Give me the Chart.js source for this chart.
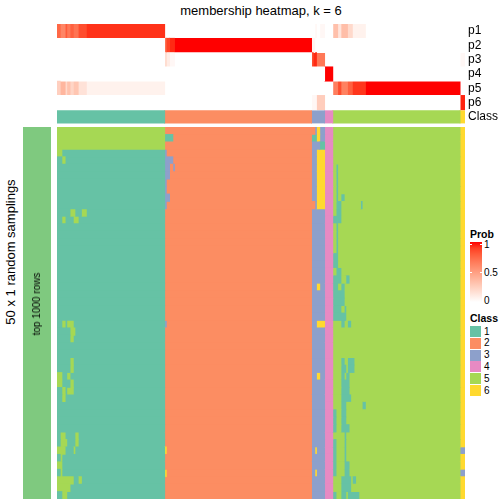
<!DOCTYPE html>
<html>
<head>
<meta charset="UTF-8">
<title>membership heatmap, k = 6</title>
<script src="https://cdn.jsdelivr.net/npm/chart.js@4.4.1/dist/chart.umd.min.js"></script>
<style>
	body { margin: 0; background: #fff; font-family: "Liberation Sans", Arial, sans-serif; }
	#wrap { position: relative; width: 504px; height: 504px; overflow: hidden; }
	canvas { position: absolute; }
	.txt { position: absolute; white-space: nowrap; color: #000; line-height: 1; }
	.rot { transform: translate(-50%, -50%) rotate(-90deg); }
	.sw { position: absolute; left: 470px; width: 11px; height: 11px; }
	.lab { position: absolute; left: 484px; font-size: 10px; line-height: 10px; }
</style>
</head>
<body>
<div id="wrap">
	<div class="txt" style="left:57px;width:408px;top:4px;text-align:center;font-size:13px;">membership heatmap, k = 6</div>
	<canvas id="probChart" width="448" height="100" style="left:57px;top:24px;"></canvas>
	<canvas id="sideChart" width="28" height="372" style="left:23px;top:127px;"></canvas>
	<canvas id="gridChart" width="408" height="372" style="left:57px;top:127px;"></canvas>
	<div class="txt rot" style="left:10px;top:252px;font-size:13px;">50 x 1 random samplings</div>
	<div class="txt rot" style="left:37px;top:304px;font-size:10px;">top 1000 rows</div>
	<div id="legend"></div>
</div>
<script>
	// columns of the heatmap (samples), ordered by consensus class
	var nCols = 250;
	var classLabels = ['1', '2', '3', '4', '5', '6'];
	var classColors = ['#66c2a5', '#fc8d62', '#8da0cb', '#e78ac3', '#a6d854', '#ffd92f'];
	var probLabels = ['p1', 'p2', 'p3', 'p4', 'p5', 'p6'];
	var probTicks = ['1', '0.5', '0'];

	// consensus class of each column: [class, number of columns]
	var classRuns = [[1, 66], [2, 90], [3, 8], [4, 5], [5, 78], [6, 3]];

	// membership probability rows: [value, number of columns]
	var p1Runs = [[0.75, 2], [0.62, 3], [0.8, 1], [0.68, 2], [0.78, 2], [0.7, 3], [0.85, 5], [0.93, 48], [0, 92], [0.04, 1], [0, 2], [0.04, 3], [0, 5], [0.33, 3], [0.14, 2], [0.34, 4], [0.2, 3], [0.07, 8], [0, 61]];
	var p2Runs = [[0, 66], [0.78, 1], [0.88, 2], [0.95, 3], [1, 84], [0.05, 2], [0, 92]];
	var p3Runs = [[0, 66], [0.2, 1], [0.1, 2], [0.04, 3], [0, 84], [0.85, 1], [0.95, 2], [0.68, 5], [0, 83], [0.04, 3]];
	var p4Runs = [[0, 164], [1, 5], [0, 81]];
	var p5Runs = [[0.25, 2], [0.38, 3], [0.2, 1], [0.32, 2], [0.22, 2], [0.3, 3], [0.15, 5], [0.07, 48], [0, 103], [0.65, 3], [0.85, 2], [0.64, 4], [0.78, 3], [0.92, 8], [1, 58], [0, 3]];
	var p6Runs = [[0, 156], [0.04, 3], [0.26, 5], [0, 83], [0.96, 3]];

	// class found in each of the 50 random samplings, where it differs from consensus: [fromCol, toCol, class]
	var samplingChanges = [
		[[0, 65, 5], [156, 157, 2], [159, 160, 6]],
		[[0, 65, 5], [66, 70, 1], [156, 158, 1], [159, 160, 6]],
		[[0, 65, 5], [161, 163, 1]],
		[[0, 2, 5], [66, 66, 3], [159, 163, 6]],
		[[3, 4, 5], [66, 70, 3], [159, 163, 6]],
		[[66, 68, 3], [71, 71, 3], [159, 163, 6], [171, 171, 1]],
		[[66, 68, 3], [159, 163, 6], [171, 171, 1]],
		[[66, 66, 3], [159, 163, 6], [171, 171, 1]],
		[[66, 66, 3], [159, 163, 6], [171, 171, 1]],
		[[66, 68, 3], [159, 163, 6], [171, 171, 1], [174, 175, 1]],
		[[66, 66, 3], [156, 157, 2], [159, 163, 6], [171, 173, 1], [186, 186, 1]],
		[[8, 10, 5], [15, 17, 5], [171, 173, 1]],
		[[3, 4, 5], [10, 12, 5], [169, 173, 1]],
		[[171, 171, 1]],
		[[171, 171, 1]],
		[[171, 171, 1]],
		[[171, 171, 1]],
		[[169, 171, 1]],
		[[169, 171, 1]],
		[[171, 173, 1]],
		[[169, 173, 1], [177, 178, 1]],
		[[159, 160, 6], [169, 171, 1], [174, 175, 1]],
		[[169, 175, 1]],
		[[169, 175, 1]],
		[[169, 173, 1], [176, 176, 1]],
		[[169, 176, 1]],
		[[3, 4, 5], [6, 9, 5], [66, 66, 3], [159, 163, 6], [174, 175, 1], [178, 179, 1]],
		[[8, 10, 5]],
		[[8, 9, 5]],
		[],
		[],
		[[8, 9, 5], [174, 175, 1], [178, 181, 1]],
		[[8, 9, 5], [174, 176, 1], [178, 181, 1]],
		[[0, 2, 5], [6, 7, 5], [159, 160, 6], [174, 175, 1], [177, 178, 1]],
		[[0, 2, 5], [8, 9, 5], [174, 178, 1]],
		[[3, 4, 5], [6, 9, 5], [174, 178, 1]],
		[[3, 4, 5], [174, 179, 1]],
		[[174, 176, 1], [187, 188, 1]],
		[[169, 170, 1], [174, 176, 1]],
		[[169, 170, 1], [174, 176, 1]],
		[[169, 170, 1], [174, 178, 1]],
		[[2, 4, 5], [11, 12, 5], [176, 176, 1]],
		[[2, 5, 5], [11, 12, 5], [169, 170, 1], [176, 176, 1]],
		[[0, 4, 5], [10, 10, 5], [66, 66, 6], [158, 158, 6], [169, 170, 1], [176, 176, 1], [247, 249, 3]],
		[[2, 2, 5], [169, 170, 1], [176, 176, 1]],
		[[0, 2, 5], [169, 170, 1], [176, 178, 1]],
		[[2, 2, 5], [66, 66, 6], [158, 158, 6], [169, 170, 1], [176, 178, 1], [247, 249, 3]],
		[[0, 9, 5], [13, 14, 5], [174, 179, 1], [181, 182, 1]],
		[[0, 7, 5], [174, 179, 1]],
		[[3, 5, 5], [169, 170, 1], [174, 176, 1], [178, 184, 1]]
	];

	// white -> red in LAB space
	function probColor(v) {
		var L = 100 + (53.2408 - 100) * v, A = 80.0925 * v, B = 67.2032 * v;
		var fy = (L + 16) / 116, fx = fy + A / 500, fz = fy - B / 200;
		var f = function(t) { return t * t * t > 0.008856 ? t * t * t : (t - 16 / 116) / 7.787; };
		var X = 0.95047 * f(fx), Y = f(fy), Z = 1.08883 * f(fz);
		var r = 3.2406 * X - 1.5372 * Y - 0.4986 * Z;
		var g = -0.9689 * X + 1.8758 * Y + 0.0415 * Z;
		var b = 0.0557 * X - 0.2040 * Y + 1.0570 * Z;
		var gam = function(c) {
			c = Math.min(1, Math.max(0, c));
			return Math.round(255 * (c <= 0.0031308 ? 12.92 * c : 1.055 * Math.pow(c, 1 / 2.4) - 0.055));
		};
		return 'rgb(' + gam(r) + ',' + gam(g) + ',' + gam(b) + ')';
	}

	function runsToSegments(runs, colorOf) {
		var segs = [], pos = 0;
		runs.forEach(function(run) {
			segs.push({ start: pos, end: pos + run[1], color: colorOf(run[0]) });
			pos += run[1];
		});
		return segs;
	}

	function samplingSegments(changes) {
		var cols = [];
		classRuns.forEach(function(run) { for (var i = 0; i < run[1]; i++) cols.push(run[0]); });
		changes.forEach(function(c) { for (var i = c[0]; i <= c[1]; i++) cols[i] = c[2]; });
		var runs = [];
		cols.forEach(function(c) {
			if (runs.length && runs[runs.length - 1][0] == c) runs[runs.length - 1][1]++;
			else runs.push([c, 1]);
		});
		return runsToSegments(runs, function(c) { return classColors[c - 1]; });
	}

	// one dataset per "layer": k-th segment of each row
	function layerDatasets(segRows, nLabels, offset, barPct) {
		var maxLen = 0, sets = [];
		segRows.forEach(function(s) { maxLen = Math.max(maxLen, s.length); });
		for (var k = 0; k < maxLen; k++) {
			var data = [], colors = [];
			for (var i = 0; i < nLabels; i++) { data.push(null); colors.push('#fff'); }
			segRows.forEach(function(s, r) {
				if (s[k]) {
					data[r + offset] = [s[k].start, s[k].end];
					colors[r + offset] = s[k].color;
				}
			});
			sets.push({
				data: data, backgroundColor: colors, borderWidth: 0, grouped: false,
				categoryPercentage: 1, barPercentage: barPct, inflateAmount: 0.4
			});
		}
		return sets;
	}

	Chart.defaults.font.family = '"Liberation Sans", Arial, sans-serif';
	Chart.defaults.color = '#000';

	var baseOptions = function() {
		return {
			indexAxis: 'y', responsive: false, animation: false,
			layout: { padding: 0 },
			plugins: { legend: { display: false }, tooltip: { enabled: false } },
			scales: {
				x: { type: 'linear', min: 0, max: nCols, display: false },
				y: { type: 'category', display: false }
			}
		};
	};

	// probability rows + class row
	var probRows = [p1Runs, p2Runs, p3Runs, p4Runs, p5Runs, p6Runs];
	var probSegs = probRows.map(function(runs) { return runsToSegments(runs, probColor); });
	var classSegs = [runsToSegments(classRuns, function(c) { return classColors[c - 1]; })];
	var topLabels = probLabels.concat(['Class']);
	var topOptions = baseOptions();
	topOptions.scales.y = {
		type: 'category', position: 'right', display: true,
		grid: { display: false, drawTicks: false }, border: { display: false },
		ticks: { padding: 3, font: { size: 12 }, color: '#000', autoSkip: false },
		afterFit: function(axis) {
			axis.width = 40;
			axis.paddingTop = 0;
			axis.paddingBottom = 0;
		}
	};
	new Chart(document.getElementById('probChart').getContext('2d'), {
		type: 'bar',
		data: {
			labels: topLabels,
			datasets: layerDatasets(probSegs, 7, 0, 1).concat(layerDatasets(classSegs, 7, 6, 0.86))
		},
		options: topOptions
	});

	// 50 random samplings
	var rowLabels = samplingChanges.map(function(c, i) { return String(i + 1); });
	new Chart(document.getElementById('gridChart').getContext('2d'), {
		type: 'bar',
		data: { labels: rowLabels, datasets: layerDatasets(samplingChanges.map(samplingSegments), 50, 0, 1) },
		options: baseOptions()
	});

	// row split annotation
	var sideOptions = baseOptions();
	sideOptions.scales.x.max = 1;
	new Chart(document.getElementById('sideChart').getContext('2d'), {
		type: 'bar',
		data: { labels: ['top 1000 rows'], datasets: [{ data: [[0, 1]], backgroundColor: '#7fc97f', borderWidth: 0, categoryPercentage: 1, barPercentage: 1 }] },
		options: sideOptions
	});

	// legends
	var lg = document.getElementById('legend'), html = '';
	var stops = [];
	for (var i = 0; i <= 10; i++) stops.push(probColor(1 - i / 10) + ' ' + (i * 10) + '%');
	html += '<div class="txt" style="left:470px;top:229px;font-size:10.5px;font-weight:bold;">Prob</div>';
	html += '<div style="position:absolute;left:470px;top:242px;width:12px;height:60px;background:linear-gradient(to bottom,' + stops.join(',') + ');"></div>';
	html += '<div style="position:absolute;left:470px;top:244px;width:2px;height:1px;background:#fff"></div><div style="position:absolute;left:480px;top:244px;width:2px;height:1px;background:#fff"></div>';
	html += '<div style="position:absolute;left:470px;top:272px;width:2px;height:1px;background:#fff"></div><div style="position:absolute;left:480px;top:272px;width:2px;height:1px;background:#fff"></div>';
	probTicks.forEach(function(t, i) {
		html += '<div class="lab" style="top:' + (240 + i * 28) + 'px;">' + t + '</div>';
	});
	html += '<div class="txt" style="left:470px;top:313px;font-size:10.5px;font-weight:bold;">Class</div>';
	classLabels.forEach(function(c, i) {
		var top = 326 + i * 11.8;
		html += '<div class="sw" style="top:' + top + 'px;background:' + classColors[i] + ';"></div>';
		html += '<div class="lab" style="top:' + (top + 0.5) + 'px;">' + c + '</div>';
	});
	lg.innerHTML = html;
</script>
</body>
</html>
